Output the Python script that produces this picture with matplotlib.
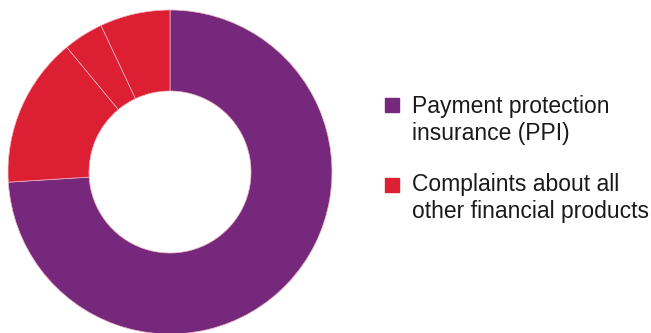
import matplotlib.pyplot as plt
from matplotlib.patches import Rectangle

# complaint shares (%)
shares = [74, 15, 4, 7]
slice_colors = ["#76287C", "#DC1F33", "#DC1F33", "#DC1F33"]

legend_labels = ["Payment protection\ninsurance (PPI)",
                 "Complaints about all\nother financial products"]
legend_colors = ["#76287C", "#DC1F33"]

W, H = 651, 333
fig = plt.figure(figsize=(W / 100, H / 100), dpi=100)

# donut on the left
cx, cy, r = 170, 161, 162
ax = fig.add_axes([(cx - r) / W, (cy - r) / H, 2 * r / W, 2 * r / H])
ax.pie(shares, colors=slice_colors, startangle=90, counterclock=False,
       radius=1, wedgeprops=dict(width=0.5, edgecolor="#F0B8C0", linewidth=0.5))
ax.set_xlim(-1, 1)
ax.set_ylim(-1, 1)
ax.set_aspect("equal")
ax.axis("off")

# legend drawn by hand: square beside first line, text baseline of last line
square_top = [98, 178]
last_baseline = [140, 218]
for lab, col, st, yb in zip(legend_labels, legend_colors, square_top, last_baseline):
    fig.patches.append(Rectangle((385 / W, (H - st - 14) / H), 14 / W, 14 / H,
                                 transform=fig.transFigure, color=col))
    fig.text(412 / W, (H - yb) / H, lab, fontsize=16.5, family="Liberation Sans",
             color="#1a1a1a", va="baseline", ha="left", linespacing=1.2)

fig.savefig("out.png", dpi=100)
